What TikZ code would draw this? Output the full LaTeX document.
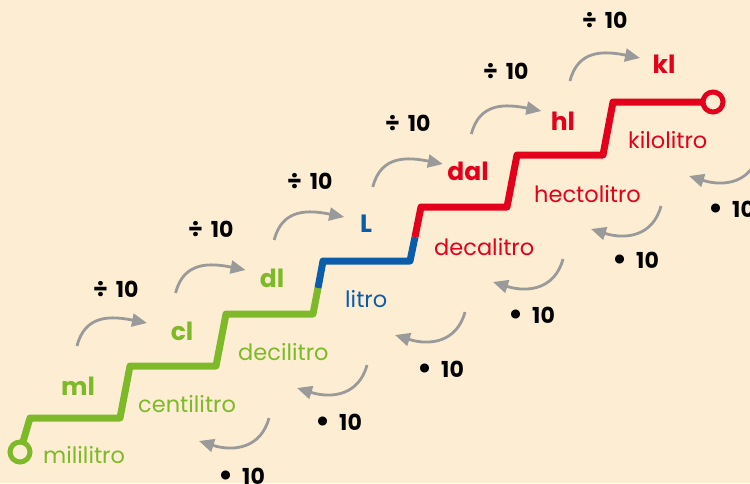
\documentclass[tikz,border=0pt]{standalone}
\usepackage{fontspec}
\setmainfont{Poppins}
\usetikzlibrary{arrows.meta}
\definecolor{bg}{HTML}{FDEED3}
\definecolor{lgreen}{HTML}{7DB928}
\definecolor{lblue}{HTML}{0B5CAB}
\definecolor{lred}{HTML}{E3001B}
\definecolor{agrey}{HTML}{9A9A9A}
\newcommand{\dv}{{\fontsize{24}{24}\selectfont ÷}\hspace{8pt}10}
\newcommand{\ml}{{\fontsize{30}{24}\selectfont\raisebox{-1pt}{•}}\hspace{9pt}10}
\begin{document}
\begin{tikzpicture}[x=1pt,y=-1pt,
  stair/.style={line width=7pt,line join=round},
  ring/.style={line width=5pt,fill=bg},
  unitl/.style={font=\bfseries\fontsize{25}{25}\selectfont,anchor=base,inner sep=0pt},
  lname/.style={font=\fontsize{22.5}{22.5}\selectfont,anchor=base west,inner sep=0pt},
  opl/.style={font=\bfseries\fontsize{22}{22}\selectfont,anchor=base west,inner sep=0pt,text=black},
  arr/.style={agrey,line width=2.8pt,-{Triangle[length=15pt,width=13pt]}}]
\fill[bg] (0,0) rectangle (750,483);
\clip (0,0) rectangle (750,483);
% staircase corners
\coordinate (p0) at (20,452);
\coordinate (p1) at (30,418);
\coordinate (p2) at (120,418);
\coordinate (p3) at (130,366);
\coordinate (p4) at (216,366);
\coordinate (p5) at (226,314);
\coordinate (p6) at (313,314);
\coordinate (gb) at (318,288);
\coordinate (p7) at (323,261);
\coordinate (p8) at (410,261);
\coordinate (br) at (415,237);
\coordinate (p9) at (421,207);
\coordinate (p10) at (507,207);
\coordinate (p11) at (517,155);
\coordinate (p12) at (603,155);
\coordinate (p13) at (613,102);
\coordinate (p14) at (713,102);
\draw[stair,lgreen] (p0) -- (p1) -- (p2) -- (p3) -- (p4) -- (p5) -- (p6) -- (gb);
\draw[stair,lblue] (gb) -- (p7) -- (p8) -- (br);
\draw[stair,lred] (br) -- (p9) -- (p10) -- (p11) -- (p12) -- (p13) -- (p14);
\draw[lgreen,ring] (p0) circle[radius=10];
\draw[lred,ring] (p14) circle[radius=10];
% unit labels
\node[unitl,text=lgreen] (ml) at (78,395) {ml};
\node[unitl,text=lgreen] (cl) at (182,340) {cl};
\node[unitl,text=lgreen] (dl) at (272,287) {dl};
\node[unitl,text=lblue] (L) at (366,232) {L};
\node[unitl,text=lred] (dal) at (468,180) {dal};
\node[unitl,text=lred] (hl) at (563,130) {hl};
\node[unitl,text=lred] (kl) at (664,73) {kl};
% names
\node[lname,text=lgreen] (n1) at (43,463) {mililitro};
\node[lname,text=lgreen] (n2) at (138,412) {centilitro};
\node[lname,text=lgreen] (n3) at (238,360) {decilitro};
\node[lname,text=lblue] (n4) at (345,307) {litro};
\node[lname,text=lred] (n5) at (434,255) {decalitro};
\node[lname,text=lred] (n6) at (534,202) {hectolitro};
\node[lname,text=lred] (n7) at (628,148) {kilolitro};
% operations
\node[opl] (d1) at (93,297) {\dv};
\node[opl] (d2) at (188,237) {\dv};
\node[opl] (d3) at (287,189) {\dv};
\node[opl] (d4) at (385,131) {\dv};
\node[opl] (d5) at (483,79) {\dv};
\node[opl] (d6) at (582,28) {\dv};
\node[opl] (m1) at (218,484) {\ml};
\node[opl] (m2) at (315,430) {\ml};
\node[opl] (m3) at (417,377) {\ml};
\node[opl] (m4) at (508,323) {\ml};
\node[opl] (m5) at (612,268) {\ml};
\node[opl] (m6) at (708,217) {\ml};
% upper arrows
\foreach \i in {0,...,5}{
  \coordinate (us\i) at (77+98.6*\i,346-53*\i);
  \coordinate (ut\i) at (147+98.6*\i,323-53*\i);
  \draw[arr] (us\i) .. controls +(8,-32) and +(-35,-7) .. (ut\i);
}
% lower arrows
\foreach \k in {-2,...,3}{
  \coordinate (ls\k) at (465+98*\k,312-53*\k);
  \coordinate (lt\k) at (395+98*\k,335-53*\k);
  \draw[arr] (ls\k) .. controls +(-8,30) and +(35,11) .. (lt\k);
}
\end{tikzpicture}
\end{document}
